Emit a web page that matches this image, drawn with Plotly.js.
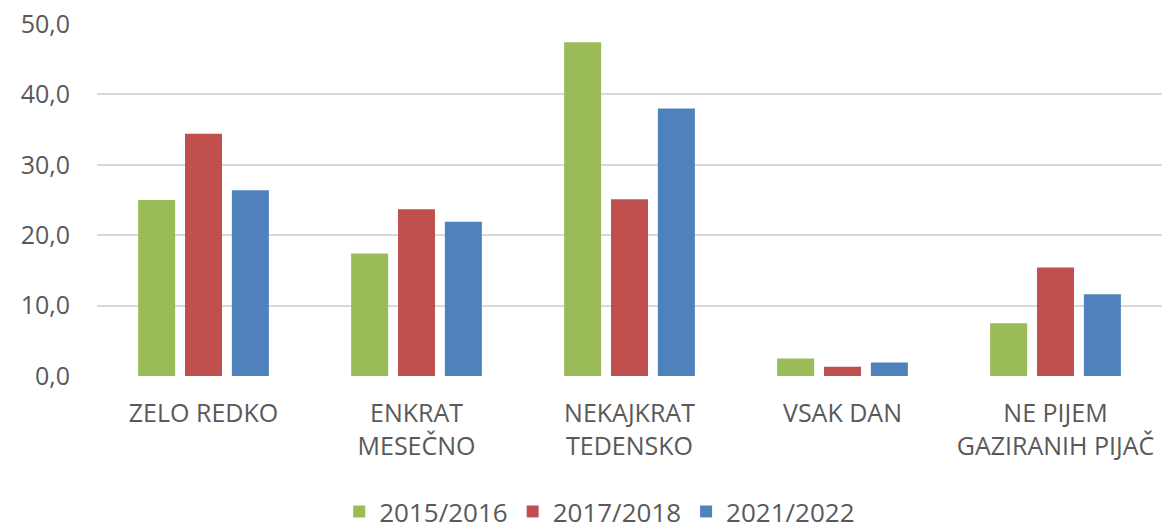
<!DOCTYPE html>
<html>
<head>
<meta charset="utf-8">
<script src="https://cdn.plot.ly/plotly-3.0.1.min.js"></script>
<style>html,body{margin:0;padding:0;background:#fff}#chart{width:1163px;height:532px}</style>
</head>
<body>
<div id="chart"></div>
<script>
const categories = ["ZELO REDKO", "ENKRAT<br>MESEČNO", "NEKAJKRAT<br>TEDENSKO", "VSAK DAN", "NE PIJEM<br>GAZIRANIH PIJAČ"];
const seriesNames = ["2015/2016", "2017/2018", "2021/2022"];
const values2015 = [25.0, 17.4, 47.4, 2.5, 7.5];
const values2017 = [34.4, 23.7, 25.1, 1.3, 15.4];
const values2021 = [26.4, 21.9, 38.0, 1.9, 11.6];
const colors = ["#9bbb59", "#c0504d", "#4f81bd"];
const yTicks = [0, 10, 20, 30, 40, 50];
const yTickLabels = ["0,0", "10,0", "20,0", "30,0", "40,0", "50,0"];

const allVals = [values2015, values2017, values2021];
const traces = allVals.map((v, i) => ({
  type: "bar",
  name: seriesNames[i],
  x: categories,
  y: v,
  marker: {color: colors[i]},
  hoverinfo: "y"
}));

const font = {family: "Open Sans, sans-serif", size: 25, color: "#595959"};
const legendFont = {family: "Open Sans, sans-serif", size: 26, color: "#595959"};
const layout = {
  width: 1163, height: 532,
  margin: {l: 97, r: 1, t: 24, b: 156, autoexpand: false},
  paper_bgcolor: "#fff", plot_bgcolor: "#fff",
  barmode: "group",
  bargap: 0.34,
  bargroupgap: 0.21,
  font: font,
  showlegend: true,
  legend: {orientation: "h", x: 0.472, xanchor: "center", y: -0.385, yanchor: "middle", font: legendFont, itemwidth: 30, traceorder: "normal"},
  xaxis: {
    type: "category",
    tickfont: font,
    showgrid: false,
    zeroline: false,
    showline: false,
    ticks: "",
    ticklabelstandoff: 20,
    automargin: false
  },
  yaxis: {
    range: [0, 50],
    tickvals: yTicks,
    ticktext: yTickLabels,
    tickfont: font,
    gridcolor: "#d9d9d9",
    gridwidth: 2,
    zeroline: false,
    showline: false,
    ticks: "",
    ticklabelstandoff: 26,
    automargin: false
  }
};
Plotly.newPlot("chart", traces, layout, {displayModeBar: false, staticPlot: true});
</script>
</body>
</html>
